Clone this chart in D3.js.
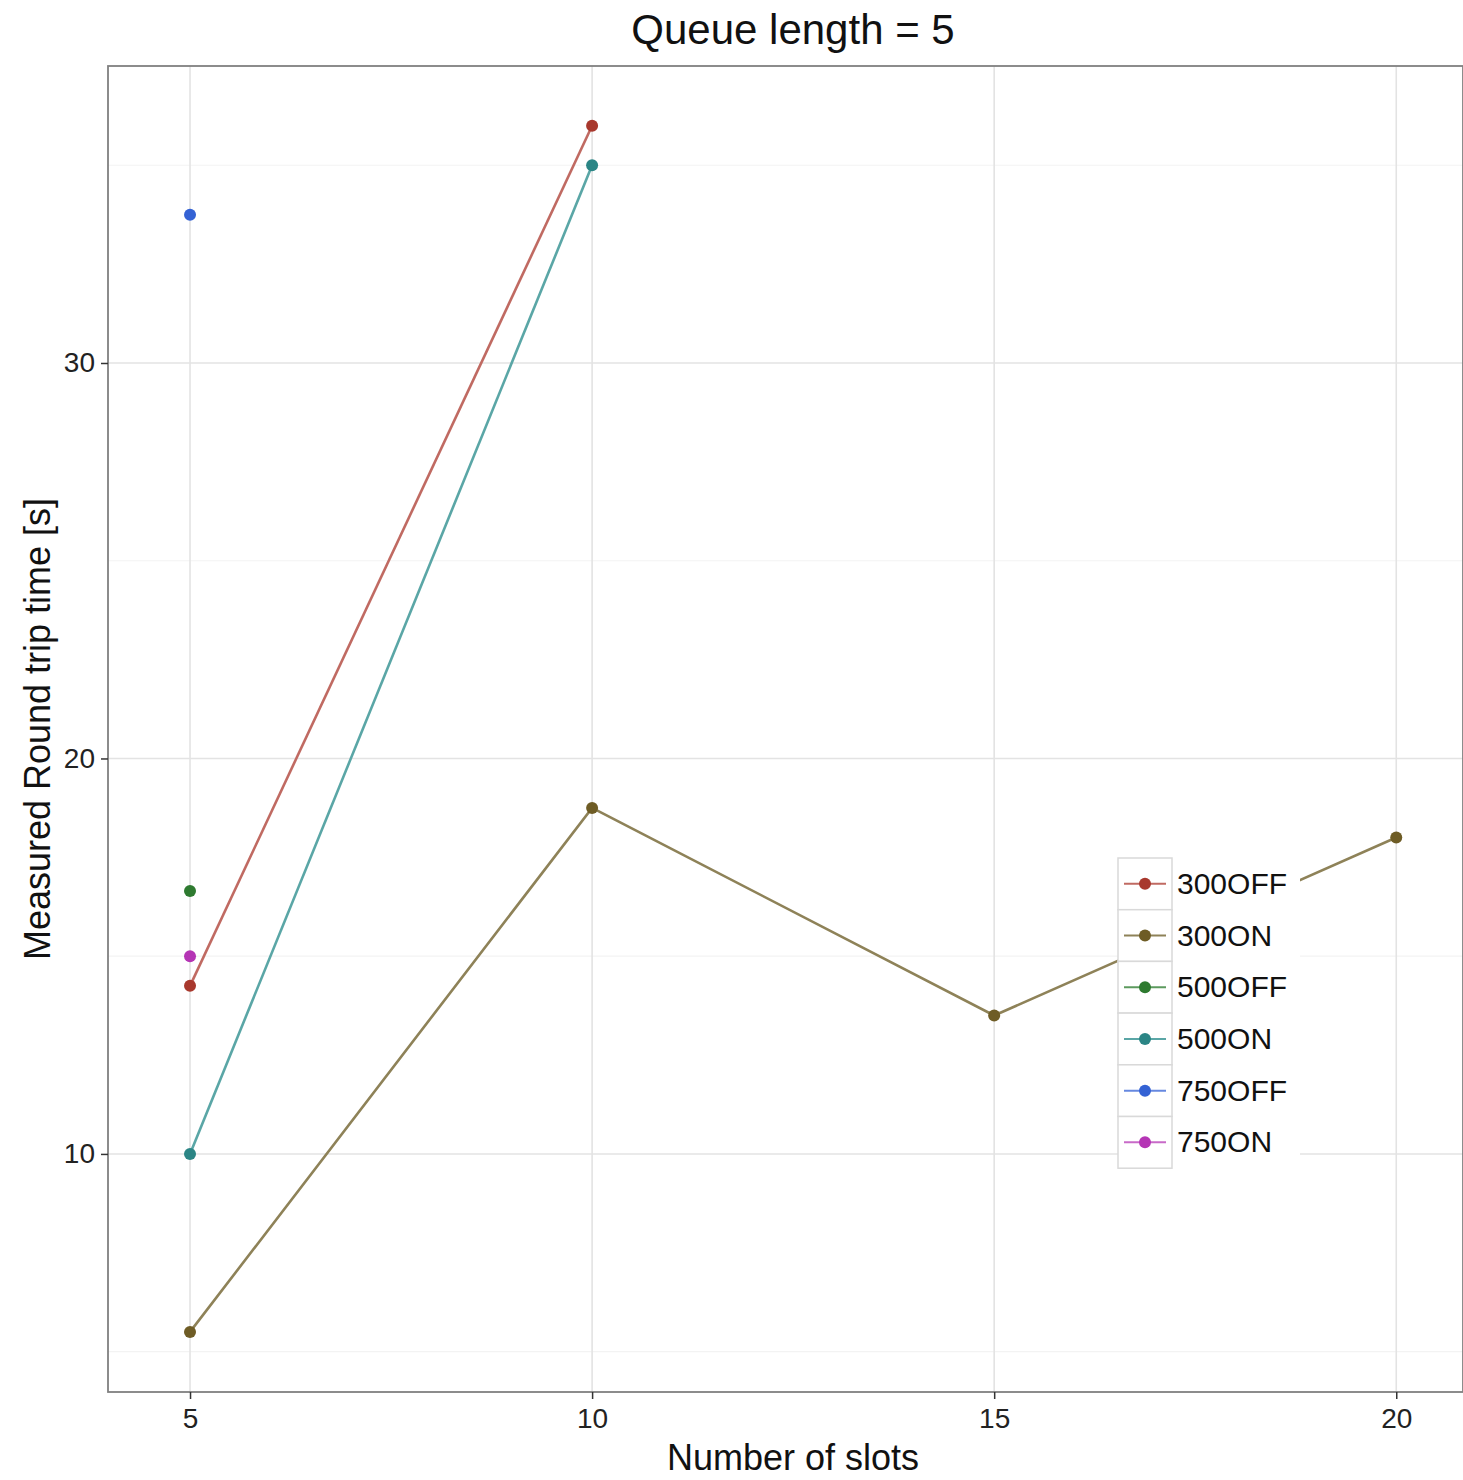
<!DOCTYPE html>
<html>
<head>
<meta charset="utf-8">
<script src="https://cdn.jsdelivr.net/npm/d3@7"></script>
<style>
  body { margin: 0; background: #fff; }
  svg text { font-family: "Liberation Sans", Arial, sans-serif; }
</style>
</head>
<body>
<svg id="chart" width="1463" height="1480"></svg>
<script>
// data
const seriesNames = ['300OFF', '300ON', '500OFF', '500ON', '750OFF', '750ON'];
const seriesColors = ['#a8382d', '#6e5c25', '#2e7a30', '#2b8585', '#3462d4', '#b535b5'];
const lineColors   = ['#c06a62', '#8e8258', '#5c9a5e', '#5aa6a6', '#6688e0', '#c86ac8'];
const slots300OFF = [5, 10];   const rtt300OFF = [14.25, 36.0];
const slots300ON  = [5, 10, 15, 20]; const rtt300ON = [5.5, 18.75, 13.5, 18.0];
const slots500OFF = [5];       const rtt500OFF = [16.65];
const slots500ON  = [5, 10];   const rtt500ON  = [10.0, 35.0];
const slots750OFF = [5];       const rtt750OFF = [33.75];
const slots750ON  = [5];       const rtt750ON  = [15.0];
const xTicks = [5, 10, 15, 20];
const yTicks = [10, 20, 30];
const yMinor = [5, 15, 25, 35];

const allSlots = [slots300OFF, slots300ON, slots500OFF, slots500ON, slots750OFF, slots750ON];
const allRtt   = [rtt300OFF, rtt300ON, rtt500OFF, rtt500ON, rtt750OFF, rtt750ON];
const series = seriesNames.map((name, i) => ({
  name, color: seriesColors[i], line: lineColors[i],
  values: allSlots[i].map((s, j) => ({ x: s, y: allRtt[i][j] }))
}));

const panel = { left: 108, right: 1463, top: 66, bottom: 1392 };
const svg = d3.select('#chart');

const x = d3.scaleLinear().domain([3.98, 20.83]).range([panel.left, panel.right]);
const y = d3.scaleLinear().domain([3.98, 37.51]).range([panel.bottom, panel.top]);

const g = svg.append('g');

// minor grid
g.selectAll('.ymin').data(yMinor).join('line')
  .attr('x1', panel.left).attr('x2', panel.right)
  .attr('y1', d => y(d)).attr('y2', d => y(d))
  .attr('stroke', '#f3f3f3').attr('stroke-width', 1.2);

// major grid
g.selectAll('.ymaj').data(yTicks).join('line')
  .attr('x1', panel.left).attr('x2', panel.right)
  .attr('y1', d => y(d)).attr('y2', d => y(d))
  .attr('stroke', '#e3e3e3').attr('stroke-width', 1.6);
g.selectAll('.xmaj').data(xTicks).join('line')
  .attr('y1', panel.top).attr('y2', panel.bottom)
  .attr('x1', d => x(d)).attr('x2', d => x(d))
  .attr('stroke', '#e3e3e3').attr('stroke-width', 1.6);

// lines
const line = d3.line().x(d => x(d.x)).y(d => y(d.y));
g.selectAll('.series-line').data(series.filter(s => s.values.length > 1)).join('path')
  .attr('d', d => line(d.values))
  .attr('fill', 'none')
  .attr('stroke', d => d.line)
  .attr('stroke-width', 2.6);

// points
series.forEach(s => {
  g.selectAll(null).data(s.values).join('circle')
    .attr('cx', d => x(d.x)).attr('cy', d => y(d.y))
    .attr('r', 6).attr('fill', s.color);
});

// panel border
svg.append('rect')
  .attr('x', panel.left).attr('y', panel.top)
  .attr('width', panel.right - panel.left).attr('height', panel.bottom - panel.top)
  .attr('fill', 'none').attr('stroke', '#808080').attr('stroke-width', 1.8);

// axes
const xAxis = svg.append('g')
  .attr('transform', `translate(0,${panel.bottom})`)
  .call(d3.axisBottom(x).tickValues(xTicks).tickSize(7).tickPadding(9));
const yAxis = svg.append('g')
  .attr('transform', `translate(${panel.left},0)`)
  .call(d3.axisLeft(y).tickValues(yTicks).tickSize(7).tickPadding(6));
[xAxis, yAxis].forEach(a => {
  a.select('.domain').remove();
  a.selectAll('.tick line').attr('stroke', '#333').attr('stroke-width', 1.5);
  a.selectAll('.tick text').attr('fill', '#222').style('font-size', '28px')
    .style('font-family', '"Liberation Sans", Arial, sans-serif');
});

// titles
svg.append('text').attr('x', 793).attr('y', 44).attr('text-anchor', 'middle')
  .style('font-size', '42px').attr('fill', '#111').text('Queue length = 5');
svg.append('text').attr('x', 793).attr('y', 1470).attr('text-anchor', 'middle')
  .style('font-size', '36px').attr('fill', '#111').text('Number of slots');
svg.append('text').attr('transform', 'translate(50,729) rotate(-90)')
  .attr('text-anchor', 'middle')
  .style('font-size', '36px').attr('fill', '#111').text('Measured Round trip time [s]');

// legend
const leg = { x: 1118, y: 858, keyW: 54, keyH: 51.7, width: 182 };
const legend = svg.append('g').attr('transform', `translate(${leg.x},${leg.y})`);
legend.append('rect')
  .attr('width', leg.width).attr('height', leg.keyH * series.length)
  .attr('fill', '#fff');
const items = legend.selectAll('.item').data(series).join('g')
  .attr('transform', (d, i) => `translate(0,${i * leg.keyH})`);
items.append('rect')
  .attr('width', leg.keyW).attr('height', leg.keyH)
  .attr('fill', '#fff').attr('stroke', '#d9d9d9').attr('stroke-width', 1.5);
items.append('line')
  .attr('x1', 6).attr('x2', leg.keyW - 6)
  .attr('y1', leg.keyH / 2).attr('y2', leg.keyH / 2)
  .attr('stroke', d => d.line).attr('stroke-width', 2);
items.append('circle')
  .attr('cx', leg.keyW / 2).attr('cy', leg.keyH / 2).attr('r', 6)
  .attr('fill', d => d.color);
items.append('text')
  .attr('x', leg.keyW + 5).attr('y', leg.keyH / 2 + 10)
  .style('font-size', '30px').attr('fill', '#111')
  .text(d => d.name);
</script>
</body>
</html>
